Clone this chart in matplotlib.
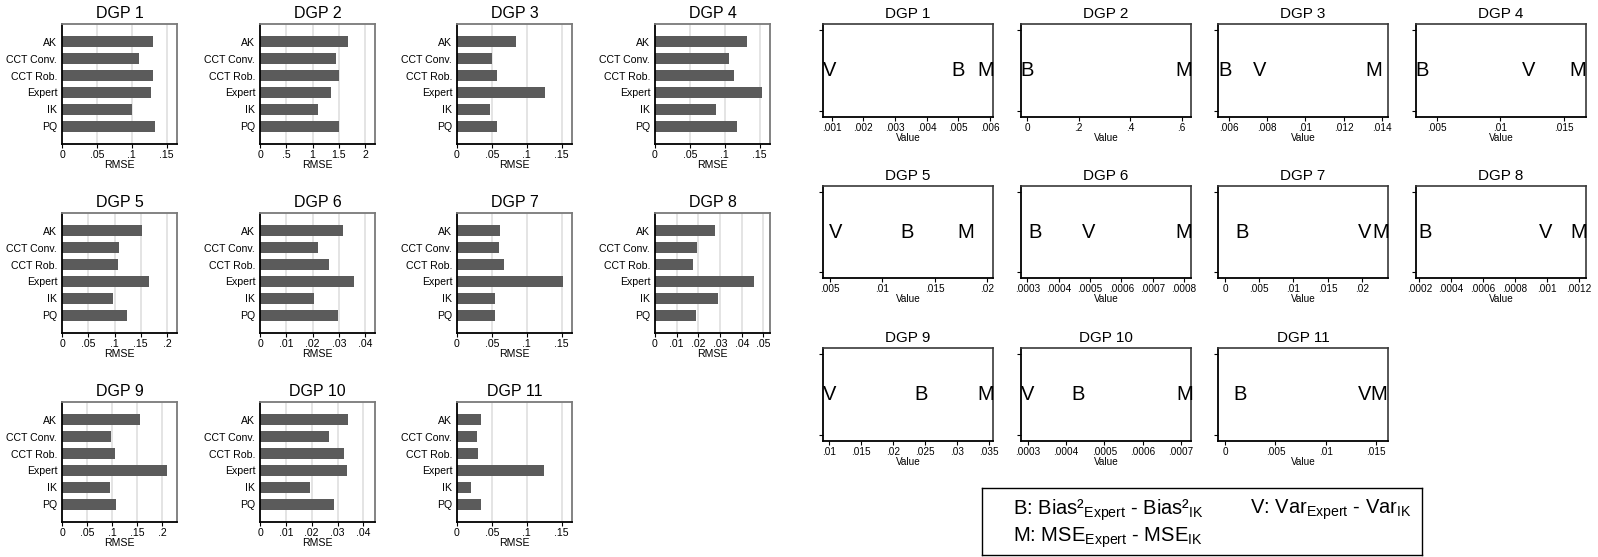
import matplotlib
matplotlib.use("Agg")
import matplotlib.pyplot as plt
import numpy as np

plt.rcParams['font.family'] = ['Liberation Sans', 'DejaVu Sans']
plt.rcParams['mathtext.fontset'] = 'custom'
plt.rcParams['mathtext.rm'] = 'Liberation Sans'
plt.rcParams['mathtext.it'] = 'Liberation Sans'

W, H = 1598, 557

# ---- data: RMSE by estimator (left panels) ----
estimators = ["AK", "CCT Conv.", "CCT Rob.", "Expert", "IK", "PQ"]
dgps = [f"DGP {i}" for i in range(1, 12)]
rmse = [
    [0.130, 0.111, 0.131, 0.128, 0.101, 0.134],
    [1.68, 1.44, 1.51, 1.36, 1.10, 1.51],
    [0.085, 0.050, 0.057, 0.126, 0.047, 0.057],
    [0.132, 0.106, 0.113, 0.154, 0.087, 0.117],
    [0.153, 0.108, 0.107, 0.166, 0.097, 0.124],
    [0.0315, 0.0222, 0.0262, 0.0357, 0.0207, 0.0296],
    [0.062, 0.060, 0.068, 0.152, 0.055, 0.054],
    [0.0275, 0.0195, 0.0175, 0.0455, 0.029, 0.019],
    [0.155, 0.097, 0.105, 0.209, 0.095, 0.107],
    [0.034, 0.0268, 0.0325, 0.0335, 0.0195, 0.0285],
    [0.034, 0.0285, 0.030, 0.125, 0.0195, 0.035],
]
rmse_ticks = [
    [0, .05, .1, .15], [0, .5, 1, 1.5, 2], [0, .05, .1, .15], [0, .05, .1, .15],
    [0, .05, .1, .15, .2], [0, .01, .02, .03, .04], [0, .05, .1, .15],
    [0, .01, .02, .03, .04, .05], [0, .05, .1, .15, .2], [0, .01, .02, .03, .04],
    [0, .05, .1, .15],
]
rmse_xmax = [.165, 2.19, .165, .165, .219, .0437, .165, .053, .229, .0445, .165]

# ---- data: Expert minus IK decomposition (right panels) ----
# V for DGP 2 sits under the M label and is not visible in the figure
bias_diff = [.00499, .0, .00578, .00387, .01237, .000325, .00243, .000236, .02428, .000431, .00148]
var_diff = [.00092, np.nan, .0076, .0122, .00557, .000495, .02033, .000993, .0101, .0003, .01388]
mse_diff = [.00587, .609, .0136, .01612, .01797, .0008, .02276, .0012, .0344, .000709, .01519]
value_ticks = [
    [.001, .002, .003, .004, .005, .006], [0, .2, .4, .6],
    [.006, .008, .01, .012, .014], [.005, .01, .015], [.005, .01, .015, .02],
    [.0003, .0004, .0005, .0006, .0007, .0008], [0, .005, .01, .015, .02],
    [.0002, .0004, .0006, .0008, .001, .0012], [.01, .015, .02, .025, .03, .035],
    [.0003, .0004, .0005, .0006, .0007], [0, .005, .01, .015],
]
value_xlim = [
    (.000726, .0061), (-.0245, .636), (.00541, .01433), (.003374, .01673),
    (.00433, .02054), (.00028, .000822), (-.00102, .02382), (.000179, .001246),
    (.00902, .03558), (.000283, .000726), (-.00069, .01615),
]


def stata_fmt(v):
    s = f"{v:g}"
    if s.startswith("0."):
        s = s[1:]
    return s


fig = plt.figure(figsize=(W / 100, H / 100), dpi=100)

left_cols = [62, 260, 457, 655]
left_rows = [(24, 144), (213, 333), (402, 522)]
right_cols = [823, 1021, 1218, 1416]
right_rows = [(24, 117), (186, 278), (348, 441)]

ypos = np.arange(len(estimators))
for i in range(11):
    r, c = divmod(i, 4)
    # left: RMSE bars
    x0 = left_cols[c]
    y0, y1 = left_rows[r]
    ax = fig.add_axes([x0 / W, 1 - y1 / H, 115 / W, (y1 - y0) / H])
    for t in rmse_ticks[i][1:]:
        ax.axvline(t, color="#e4e4e4", lw=1.4, zorder=0)
    ax.barh(ypos, rmse[i], height=0.62, color="#5b5b5b", zorder=2)
    ax.set_ylim(len(estimators) - 1 + 1.04, -1.04)
    ax.set_xlim(0, rmse_xmax[i])
    ax.set_yticks(ypos)
    ax.set_yticklabels(estimators, fontsize=7.6)
    ax.tick_params(axis="y", length=0, pad=3.5)
    ax.set_xticks(rmse_ticks[i])
    ax.set_xticklabels([stata_fmt(t) for t in rmse_ticks[i]], fontsize=7.6)
    ax.tick_params(axis="x", length=3, width=0.8, pad=1.2)
    ax.set_xlabel("RMSE", fontsize=7.6, labelpad=0.3)
    ax.set_title(dgps[i], fontsize=11.5, pad=4)
    for s in ("left", "bottom"):
        ax.spines[s].set_linewidth(1.3)
        ax.spines[s].set_color("black")
    for s in ("top", "right"):
        ax.spines[s].set_linewidth(1.3)
        ax.spines[s].set_color("#7a7a7a")

    # right: B / V / M positions
    x0 = right_cols[c]
    y0, y1 = right_rows[r]
    ax = fig.add_axes([x0 / W, 1 - y1 / H, 170 / W, (y1 - y0) / H])
    ax.set_xlim(*value_xlim[i])
    ax.set_ylim(-1.16, 1.16)
    for lab, vals in (("B", bias_diff), ("V", var_diff), ("M", mse_diff)):
        if np.isfinite(vals[i]):
            ax.text(vals[i], 0, lab, fontsize=14.5, ha="center", va="center", clip_on=False)
    ax.set_yticks([-1, 1])
    ax.set_yticklabels([])
    ax.tick_params(axis="y", length=3, width=0.8)
    ax.set_xticks(value_ticks[i])
    ax.set_xticklabels([stata_fmt(t) for t in value_ticks[i]], fontsize=7.2)
    ax.tick_params(axis="x", length=3, width=0.8, pad=1.2)
    ax.set_xlabel("Value", fontsize=7.2, labelpad=0.3)
    ax.set_title(dgps[i], fontsize=11, pad=4)
    for s in ("left", "bottom"):
        ax.spines[s].set_linewidth(1.3)
        ax.spines[s].set_color("black")
    for s in ("top", "right"):
        ax.spines[s].set_linewidth(1.2)
        ax.spines[s].set_color("#3a3a3a")

# legend box
leg = fig.add_axes([982 / W, 1 - 555 / H, 440 / W, 67 / H])
leg.set_xticks([])
leg.set_yticks([])
for s in leg.spines.values():
    s.set_linewidth(1.0)
    s.set_color("black")
leg.text(0.07, 0.67, r"B: Bias²$_{\mathrm{Expert}}$ - Bias²$_{\mathrm{IK}}$", fontsize=14.5,
         ha="left", va="center", transform=leg.transAxes)
leg.text(0.61, 0.67, r"V: Var$_{\mathrm{Expert}}$ - Var$_{\mathrm{IK}}$", fontsize=14.5,
         ha="left", va="center", transform=leg.transAxes)
leg.text(0.07, 0.25, r"M: MSE$_{\mathrm{Expert}}$ - MSE$_{\mathrm{IK}}$", fontsize=14.5,
         ha="left", va="center", transform=leg.transAxes)

fig.savefig("out.png", dpi=100)
